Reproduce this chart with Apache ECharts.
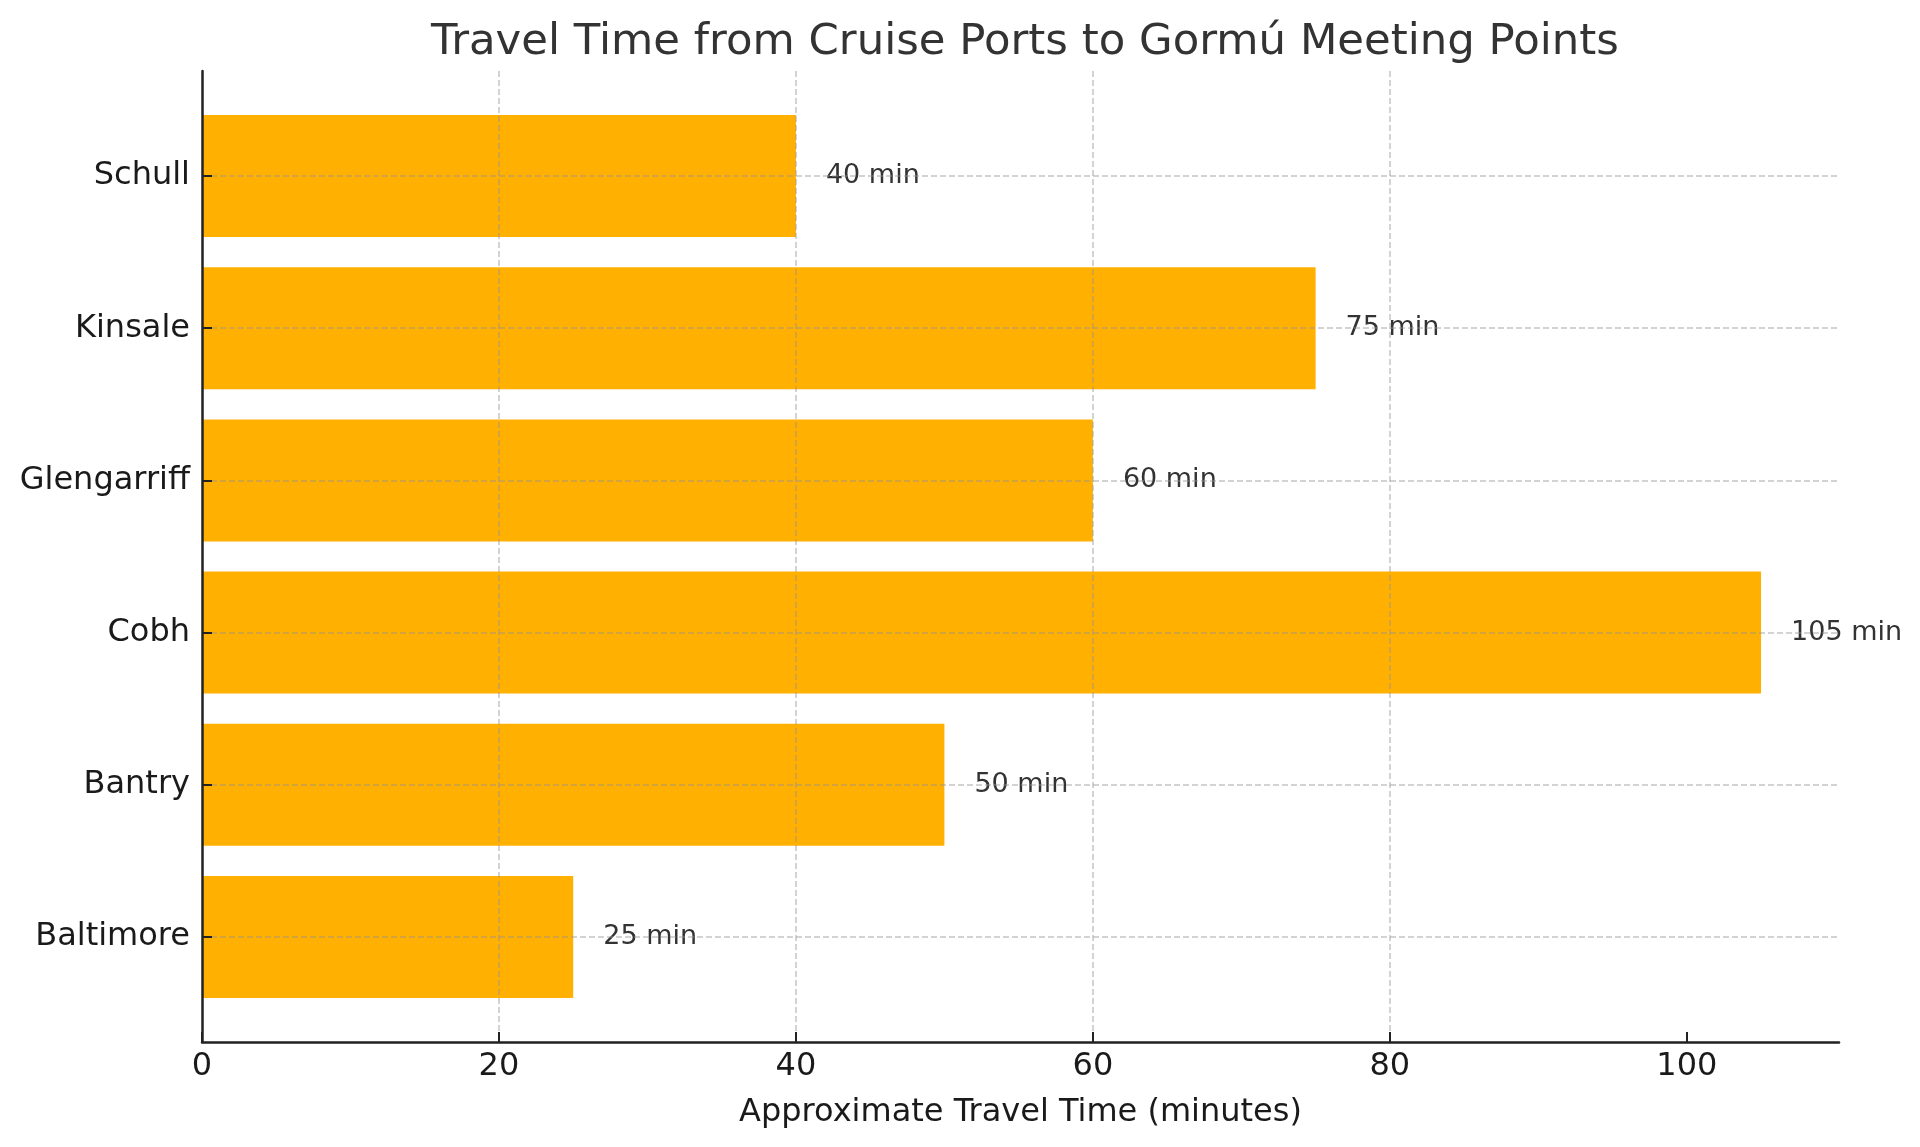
<!DOCTYPE html>
<html>
<head>
<meta charset="utf-8">
<script src="https://cdn.jsdelivr.net/npm/echarts@6/dist/echarts.min.js"></script>
<style>html,body{margin:0;padding:0;background:#fff;}#c{width:1920px;height:1147px;}</style>
</head>
<body>
<div id="c"></div>
<script>
const categories = ['Baltimore', 'Bantry', 'Cobh', 'Glengarriff', 'Kinsale', 'Schull'];
const travelMinutes = [25, 50, 105, 60, 75, 40];
const xTickValues = [0, 20, 40, 60, 80, 100];
const xRange = { min: 0, max: 110.25, interval: 20 };
const titleText = 'Travel Time from Cruise Ports to Gormú Meeting Points';
const xAxisTitle = 'Approximate Travel Time (minutes)';

const FONT = 'DejaVu Sans';
const gridColor = 'rgba(150,150,150,0.55)';
const chart = echarts.init(document.getElementById('c'));
chart.setOption({
  backgroundColor: '#fff',
  animation: false,
  graphic: [{
    type: 'text', left: 1031 - 600, top: 21, z: 10,
    style: { text: titleText, x: 600, textAlign: 'center', width: 1200,
      font: 'normal 43.4px "DejaVu Sans"', fill: '#333' }
  }],
  grid: [
    { left: 202, right: 81, top: 71, bottom: 105 },
    { left: 202, right: 81, top: 176, bottom: 210 }
  ],
  xAxis: [
    {
      gridIndex: 0, type: 'value', min: xRange.min, max: xRange.max, interval: xRange.interval, z: 6,
      name: xAxisTitle, nameLocation: 'middle', nameGap: 55,
      nameTextStyle: { fontFamily: FONT, fontSize: 32, color: '#1a1a1a' },
      axisLine: { show: true, onZero: false, lineStyle: { color: '#222', width: 2.5 } },
      axisTick: { show: true, inside: true, length: 10, customValues: xTickValues, lineStyle: { color: '#222', width: 2 } },
      axisLabel: { fontFamily: FONT, fontSize: 32, color: '#1a1a1a', margin: 9, customValues: xTickValues },
      splitLine: { show: true, showMaxLine: false, showMinLine: false, lineStyle: { color: gridColor, width: 1.5, type: [6, 3] } }
    },
    { gridIndex: 1, type: 'value', min: xRange.min, max: xRange.max, show: false }
  ],
  yAxis: [
    {
      gridIndex: 0, type: 'value', min: 0, max: 1, z: 6,
      axisLine: { show: true, onZero: false, lineStyle: { color: '#222', width: 2.5 } },
      axisTick: { show: false }, axisLabel: { show: false }, splitLine: { show: false }
    },
    {
      gridIndex: 1, type: 'category', data: categories, boundaryGap: false, z: 6,
      axisLine: { show: false },
      axisTick: { show: true, inside: true, length: 10, lineStyle: { color: '#222', width: 2 } },
      axisLabel: { fontFamily: FONT, fontSize: 32, color: '#1a1a1a', margin: 12 },
      splitLine: { show: true, lineStyle: { color: gridColor, width: 1.5, type: [6, 3] } }
    }
  ],
  series: [{
    type: 'bar', xAxisIndex: 1, yAxisIndex: 1,
    data: travelMinutes, barWidth: 122,
    itemStyle: { color: '#FFB000' },
    label: {
      show: true, position: 'right', distance: 30,
      formatter: p => p.value + ' min',
      fontFamily: FONT, fontSize: 27, color: '#333'
    }
  }]
});
</script>
</body>
</html>
